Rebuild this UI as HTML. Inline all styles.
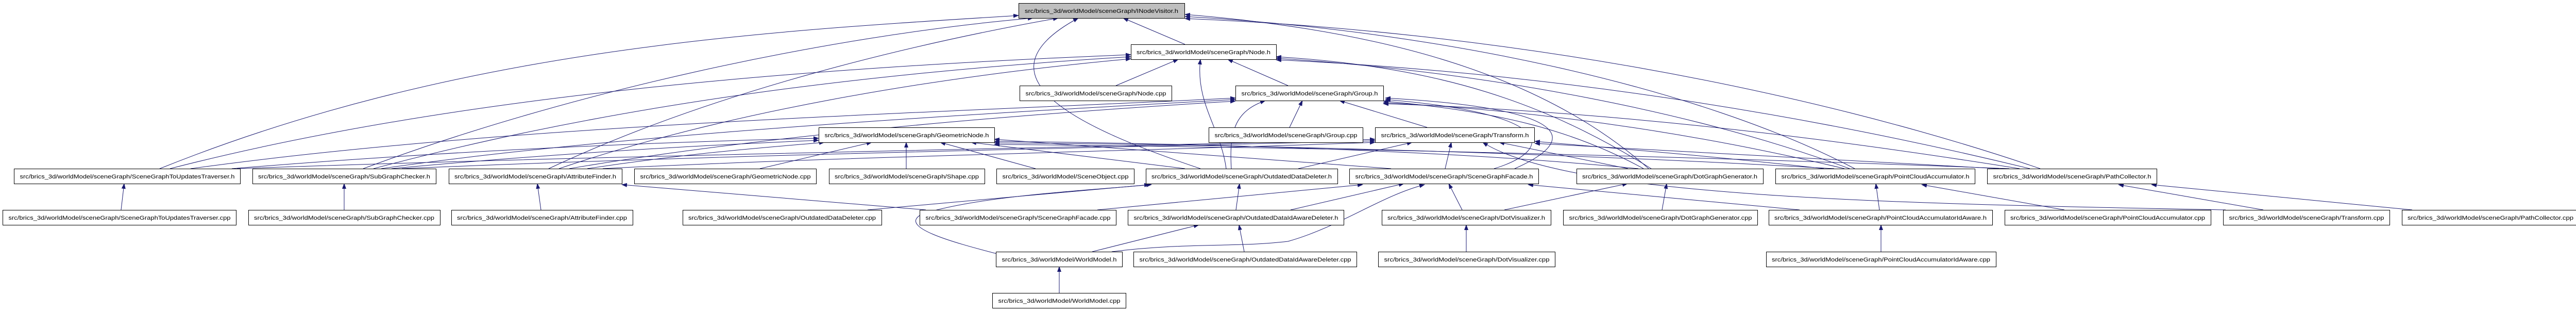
<!DOCTYPE html>
<html><head><meta charset="utf-8"><style>
html,body{margin:0;padding:0;background:#fff;}
svg{display:block;}
text{font-family:"Liberation Sans",sans-serif;font-size:11px;fill:#000;}
</style></head><body>
<svg width="5008" height="603" viewBox="0 0 5008 603" xmlns="http://www.w3.org/2000/svg">
<defs>
<marker id="a" markerWidth="11" markerHeight="8" refX="10" refY="4" orient="auto" markerUnits="userSpaceOnUse"><path d="M0,0 L11,4 L0,8z" fill="#191970"/></marker>
</defs>
<g fill="none" stroke="#191970" stroke-width="1" marker-end="url(#a)">
<!-- short/vertical edges -->
<path d="M2300,86 L2180,35"/>
<path d="M2166,166 L2287,115"/>
<path d="M2500,166 L2383,115"/>
<path d="M2503,247 L2528,195"/>
<path d="M2770,247 L2600,195"/>
<path d="M1475,327 L1692,276"/>
<path d="M1759,327 L1759,276"/>
<path d="M2010,327 L1825,276"/>
<path d="M2805,327 L2817,276"/>
<path d="M3160,327 L2910,276"/>
<path d="M235,407 L241,356"/>
<path d="M668,407 L668,356"/>
<path d="M1050,407 L1043,356"/>
<path d="M1797,407 L1207,358"/>
<path d="M2130,407 L2645,358"/>
<path d="M1684,407 L2231,358"/>
<path d="M2399,407 L2406,356"/>
<path d="M2505,407 L2725,356"/>
<path d="M2838,407 L2812,356"/>
<path d="M2920,407 L3159,356"/>
<path d="M3226,407 L3235,356"/>
<path d="M3493,407 L2966,358"/>
<path d="M3648,407 L3641,356"/>
<path d="M4007,407 L3730,358"/>
<path d="M4393,407 L4112,358"/>
<path d="M4682,407 L4176,358"/>
<path d="M4320,407 C3700,395 3050,385 2878,276"/>
<path d="M2415,488 L2405,436"/>
<path d="M2120,488 L2327,436"/>
<path d="M2846,488 L2846,436"/>
<path d="M3651,488 L3651,436"/>
<path d="M2056,568 L2056,517"/>
<path d="M1935,492 C1850,470 1740,440 1790,415 C1900,380 2100,370 2235,358"/>
<path d="M2158,488 C2300,470 2400,480 2500,468 C2600,440 2680,380 2765,358"/>
<!-- OutdatedDataDeleter.h -->
<path d="M2330,327 C2100,250 1880,150 2093,35"/>
<path d="M2380,327 C2370,250 2320,200 2330,115"/>
<path d="M2390,327 C2385,250 2400,215 2456,195"/>
<path d="M2300,327 L1885,276"/>
<path d="M2520,327 L2741,276"/>
<!-- SceneGraphFacade.h -->
<path d="M2900,327 C3020,290 3020,220 2689,193"/>
<path d="M2940,327 C3070,270 3050,210 2689,190"/>
<path d="M2700,327 L1930,270"/>
<!-- SGTUT.h -->
<path d="M310,327 C900,90 1500,60 1977,30"/>
<path d="M330,327 C900,180 1600,130 2195,106"/>
<path d="M370,327 C1000,240 1800,220 2398,190"/>
<path d="M450,327 C900,290 1300,275 1589,268"/>
<path d="M460,327 C1200,300 2200,285 2669,270"/>
<!-- SubGraphChecker.h -->
<path d="M705,327 C1100,180 1600,70 2005,35"/>
<path d="M725,327 C1200,200 1700,140 2195,110"/>
<path d="M740,327 C1200,260 1900,220 2398,193"/>
<path d="M760,327 C1100,295 1400,280 1589,272"/>
<path d="M780,327 C1400,300 2200,285 2669,273"/>
<!-- AttributeFinder.h -->
<path d="M1065,327 C1400,170 1800,80 2054,35"/>
<path d="M1085,327 C1400,220 1800,150 2195,114"/>
<path d="M1105,327 C1500,260 2000,220 2398,196"/>
<path d="M1140,327 C1350,295 1500,285 1600,276"/>
<path d="M1170,327 C1600,305 2300,290 2669,276"/>
<!-- DotGraphGenerator.h -->
<path d="M3200,327 C3000,150 2700,60 2300,28"/>
<path d="M3205,327 C3000,200 2800,130 2477,110"/>
<path d="M3190,327 C3050,250 2900,215 2685,196"/>
<path d="M3180,327 C2800,290 2300,278 1930,274"/>
<!-- PointCloudAccumulator.h -->
<path d="M3600,327 C3300,170 2800,60 2300,32"/>
<path d="M3590,327 C3300,220 2900,140 2477,113"/>
<path d="M3580,327 C3300,260 3000,215 2685,199"/>
<path d="M3560,327 C3000,295 2400,280 1930,277"/>
<path d="M3540,327 C3300,300 3100,285 2979,274"/>
<!-- PathCollector.h -->
<path d="M3960,327 C3500,170 2900,60 2300,36"/>
<path d="M3940,327 C3500,220 3000,140 2477,116"/>
<path d="M3920,327 C3500,260 3100,215 2685,201"/>
<path d="M3900,327 C3200,300 2500,285 1930,280"/>
<path d="M3880,327 C3500,305 3200,290 2979,278"/>
</g>
<g stroke="#000" stroke-width="1">
<rect x="1977.5" y="6.5" width="322" height="29" fill="#bfbfbf"/>
</g>
<g fill="#fff" stroke="#000" stroke-width="1">
<rect x="2195.5" y="86.5" width="282" height="29"/>
<rect x="1979.5" y="166.5" width="295" height="29"/>
<rect x="2398.5" y="166.5" width="287" height="29"/>
<rect x="1589.5" y="247.5" width="341" height="29"/>
<rect x="2346.5" y="247.5" width="299" height="29"/>
<rect x="2669.5" y="247.5" width="309" height="29"/>
<rect x="27.5" y="327.5" width="439" height="29"/>
<rect x="490.5" y="327.5" width="356" height="29"/>
<rect x="871.5" y="327.5" width="336" height="29"/>
<rect x="1231.5" y="327.5" width="353" height="29"/>
<rect x="1609.5" y="327.5" width="302" height="29"/>
<rect x="1934.5" y="327.5" width="267" height="29"/>
<rect x="2224.5" y="327.5" width="372" height="29"/>
<rect x="2619.5" y="327.5" width="367" height="29"/>
<rect x="3060.5" y="327.5" width="362" height="29"/>
<rect x="3446.5" y="327.5" width="387" height="29"/>
<rect x="3857.5" y="327.5" width="329" height="29"/>
<rect x="5.5" y="407.5" width="453" height="29"/>
<rect x="482.5" y="407.5" width="372" height="29"/>
<rect x="876.5" y="407.5" width="352" height="29"/>
<rect x="1325.5" y="407.5" width="386" height="29"/>
<rect x="1785.5" y="407.5" width="381" height="29"/>
<rect x="2189.5" y="407.5" width="419" height="29"/>
<rect x="2682.5" y="407.5" width="328" height="29"/>
<rect x="3034.5" y="407.5" width="377" height="29"/>
<rect x="3433.5" y="407.5" width="434" height="29"/>
<rect x="3891.5" y="407.5" width="400" height="29"/>
<rect x="4315.5" y="407.5" width="323" height="29"/>
<rect x="4662.5" y="407.5" width="344" height="29"/>
<rect x="1933.5" y="488.5" width="245" height="29"/>
<rect x="2200.5" y="488.5" width="433" height="29"/>
<rect x="2675.5" y="488.5" width="343" height="29"/>
<rect x="3428.5" y="488.5" width="446" height="29"/>
<rect x="1926.5" y="568.5" width="259" height="29"/>
</g>
<g text-anchor="middle" lengthAdjust="spacingAndGlyphs">
<text x="2138" y="25" textLength="298" lengthAdjust="spacingAndGlyphs">src/brics_3d/worldModel/sceneGraph/INodeVisitor.h</text>
<text x="2336" y="105" textLength="260" lengthAdjust="spacingAndGlyphs">src/brics_3d/worldModel/sceneGraph/Node.h</text>
<text x="2127" y="185" textLength="273" lengthAdjust="spacingAndGlyphs">src/brics_3d/worldModel/sceneGraph/Node.cpp</text>
<text x="2542" y="185" textLength="265" lengthAdjust="spacingAndGlyphs">src/brics_3d/worldModel/sceneGraph/Group.h</text>
<text x="1760" y="266" textLength="319" lengthAdjust="spacingAndGlyphs">src/brics_3d/worldModel/sceneGraph/GeometricNode.h</text>
<text x="2496" y="266" textLength="277" lengthAdjust="spacingAndGlyphs">src/brics_3d/worldModel/sceneGraph/Group.cpp</text>
<text x="2824" y="266" textLength="287" lengthAdjust="spacingAndGlyphs">src/brics_3d/worldModel/sceneGraph/Transform.h</text>
<text x="247" y="346" textLength="417" lengthAdjust="spacingAndGlyphs">src/brics_3d/worldModel/sceneGraph/SceneGraphToUpdatesTraverser.h</text>
<text x="668" y="346" textLength="334" lengthAdjust="spacingAndGlyphs">src/brics_3d/worldModel/sceneGraph/SubGraphChecker.h</text>
<text x="1039" y="346" textLength="314" lengthAdjust="spacingAndGlyphs">src/brics_3d/worldModel/sceneGraph/AttributeFinder.h</text>
<text x="1408" y="346" textLength="331" lengthAdjust="spacingAndGlyphs">src/brics_3d/worldModel/sceneGraph/GeometricNode.cpp</text>
<text x="1760" y="346" textLength="280" lengthAdjust="spacingAndGlyphs">src/brics_3d/worldModel/sceneGraph/Shape.cpp</text>
<text x="2068" y="346" textLength="245" lengthAdjust="spacingAndGlyphs">src/brics_3d/worldModel/SceneObject.cpp</text>
<text x="2410" y="346" textLength="350" lengthAdjust="spacingAndGlyphs">src/brics_3d/worldModel/sceneGraph/OutdatedDataDeleter.h</text>
<text x="2803" y="346" textLength="345" lengthAdjust="spacingAndGlyphs">src/brics_3d/worldModel/sceneGraph/SceneGraphFacade.h</text>
<text x="3241" y="346" textLength="340" lengthAdjust="spacingAndGlyphs">src/brics_3d/worldModel/sceneGraph/DotGraphGenerator.h</text>
<text x="3640" y="346" textLength="365" lengthAdjust="spacingAndGlyphs">src/brics_3d/worldModel/sceneGraph/PointCloudAccumulator.h</text>
<text x="4022" y="346" textLength="307" lengthAdjust="spacingAndGlyphs">src/brics_3d/worldModel/sceneGraph/PathCollector.h</text>
<text x="232" y="426" textLength="431" lengthAdjust="spacingAndGlyphs">src/brics_3d/worldModel/sceneGraph/SceneGraphToUpdatesTraverser.cpp</text>
<text x="668" y="426" textLength="350" lengthAdjust="spacingAndGlyphs">src/brics_3d/worldModel/sceneGraph/SubGraphChecker.cpp</text>
<text x="1052" y="426" textLength="330" lengthAdjust="spacingAndGlyphs">src/brics_3d/worldModel/sceneGraph/AttributeFinder.cpp</text>
<text x="1518" y="426" textLength="364" lengthAdjust="spacingAndGlyphs">src/brics_3d/worldModel/sceneGraph/OutdatedDataDeleter.cpp</text>
<text x="1976" y="426" textLength="359" lengthAdjust="spacingAndGlyphs">src/brics_3d/worldModel/sceneGraph/SceneGraphFacade.cpp</text>
<text x="2399" y="426" textLength="397" lengthAdjust="spacingAndGlyphs">src/brics_3d/worldModel/sceneGraph/OutdatedDataIdAwareDeleter.h</text>
<text x="2846" y="426" textLength="306" lengthAdjust="spacingAndGlyphs">src/brics_3d/worldModel/sceneGraph/DotVisualizer.h</text>
<text x="3223" y="426" textLength="355" lengthAdjust="spacingAndGlyphs">src/brics_3d/worldModel/sceneGraph/DotGraphGenerator.cpp</text>
<text x="3650" y="426" textLength="412" lengthAdjust="spacingAndGlyphs">src/brics_3d/worldModel/sceneGraph/PointCloudAccumulatorIdAware.h</text>
<text x="4091" y="426" textLength="378" lengthAdjust="spacingAndGlyphs">src/brics_3d/worldModel/sceneGraph/PointCloudAccumulator.cpp</text>
<text x="4477" y="426" textLength="301" lengthAdjust="spacingAndGlyphs">src/brics_3d/worldModel/sceneGraph/Transform.cpp</text>
<text x="4834" y="426" textLength="322" lengthAdjust="spacingAndGlyphs">src/brics_3d/worldModel/sceneGraph/PathCollector.cpp</text>
<text x="2056" y="507" textLength="223" lengthAdjust="spacingAndGlyphs">src/brics_3d/worldModel/WorldModel.h</text>
<text x="2417" y="507" textLength="411" lengthAdjust="spacingAndGlyphs">src/brics_3d/worldModel/sceneGraph/OutdatedDataIdAwareDeleter.cpp</text>
<text x="2847" y="507" textLength="321" lengthAdjust="spacingAndGlyphs">src/brics_3d/worldModel/sceneGraph/DotVisualizer.cpp</text>
<text x="3651" y="507" textLength="424" lengthAdjust="spacingAndGlyphs">src/brics_3d/worldModel/sceneGraph/PointCloudAccumulatorIdAware.cpp</text>
<text x="2056" y="587" textLength="237" lengthAdjust="spacingAndGlyphs">src/brics_3d/worldModel/WorldModel.cpp</text>
</g>
</svg>
</body></html>
